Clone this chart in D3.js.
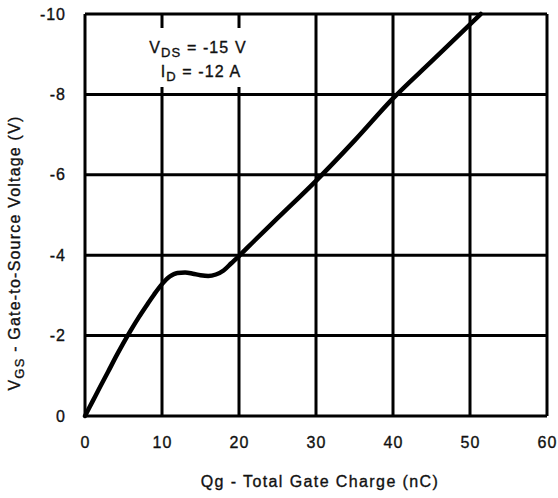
<!DOCTYPE html>
<html>
<head>
<meta charset="utf-8">
<script src="https://cdn.jsdelivr.net/npm/d3@7"></script>
<style>
  body { margin: 0; background: #fff; }
  svg text { font-family: "Liberation Sans", Arial, sans-serif; fill: #111; stroke: #111; stroke-width: 0.35px; }
</style>
</head>
<body>
<div id="chart"></div>
<script>
// gate charge curve
var qg = [0, 1, 2, 3, 4, 5, 6, 7, 8, 9, 10, 11, 12, 13, 14, 15, 16, 17, 18, 19, 20, 22, 25, 30, 35, 40, 45, 50, 51.4];
var vgs = [0, -0.37, -0.74, -1.1, -1.47, -1.82, -2.15, -2.46, -2.75, -3.03, -3.28, -3.47, -3.56, -3.57, -3.54,
           -3.5, -3.48, -3.52, -3.62, -3.8, -3.98, -4.36, -4.92, -5.85, -6.85, -7.9, -8.82, -9.74, -10];
var xTicks = [0, 10, 20, 30, 40, 50, 60];
var yTicks = [0, -2, -4, -6, -8, -10];

var svgWidth = 558;
var svgHeight = 498;
var margin = { top: 14, right: 11, bottom: 82, left: 85 };
var chart_width = svgWidth - margin.left - margin.right;
var chart_height = svgHeight - margin.top - margin.bottom;

var svg = d3.select("#chart")
    .append("svg")
    .attr("width", svgWidth)
    .attr("height", svgHeight);

var chartGroup = svg.append("g")
    .attr("transform", `translate(${margin.left}, ${margin.top})`);

var xScale = d3.scaleLinear().domain([0, 60]).range([0, chart_width]);
var yScale = d3.scaleLinear().domain([0, -10]).range([chart_height, 0]);

// grid lines
chartGroup.append("g")
    .selectAll("line")
    .data(xTicks)
    .enter()
    .append("line")
    .attr("x1", d => xScale(d))
    .attr("x2", d => xScale(d))
    .attr("y1", 0)
    .attr("y2", chart_height)
    .attr("stroke", "#000")
    .attr("stroke-width", 3);

chartGroup.append("g")
    .selectAll("line")
    .data(yTicks)
    .enter()
    .append("line")
    .attr("x1", 0)
    .attr("x2", chart_width)
    .attr("y1", d => yScale(d))
    .attr("y2", d => yScale(d))
    .attr("stroke", "#000")
    .attr("stroke-width", 3);

// white box behind the annotation
chartGroup.append("rect")
    .attr("x", 55)
    .attr("y", 14)
    .attr("width", 115)
    .attr("height", 59)
    .attr("fill", "#fff");

var ann = chartGroup.append("g").attr("text-anchor", "middle").attr("font-size", 16).attr("letter-spacing", 1.1);
var t1 = ann.append("text").attr("x", 113).attr("y", 39);
t1.append("tspan").text("V");
t1.append("tspan").attr("font-size", 13).attr("dy", 4).text("DS");
t1.append("tspan").attr("dy", -4).text(" = -15 V");
var t2 = ann.append("text").attr("x", 116).attr("y", 63);
t2.append("tspan").text("I");
t2.append("tspan").attr("font-size", 13).attr("dy", 4).text("D");
t2.append("tspan").attr("dy", -4).text(" = -12 A");

// curve
var line = d3.line()
    .x((d, i) => xScale(qg[i]))
    .y(d => yScale(d))
    .curve(d3.curveMonotoneX);

chartGroup.append("path")
    .datum(vgs)
    .attr("d", line)
    .attr("fill", "none")
    .attr("stroke", "#000")
    .attr("stroke-width", 4.5)
    .attr("stroke-linecap", "round");

// axes (labels only, the grid does the lines)
var bottomAxis = d3.axisBottom(xScale).tickValues(xTicks).tickSize(0).tickPadding(21).tickFormat(d => d);
var leftAxis = d3.axisLeft(yScale).tickValues(yTicks).tickSize(0).tickPadding(19).tickFormat(d => d);

chartGroup.append("g")
    .attr("transform", `translate(0, ${chart_height})`)
    .call(bottomAxis)
    .call(g => g.select(".domain").remove())
    .selectAll("text")
    .attr("font-size", 16)
    .attr("letter-spacing", 1)
    .attr("font-family", "Liberation Sans, Arial, sans-serif")
    .attr("fill", "#111");

chartGroup.append("g")
    .call(leftAxis)
    .call(g => g.select(".domain").remove())
    .selectAll("text")
    .attr("font-size", 16)
    .attr("letter-spacing", 1)
    .attr("font-family", "Liberation Sans, Arial, sans-serif")
    .attr("fill", "#111");

// axis titles
svg.append("text")
    .attr("x", 320)
    .attr("y", 487)
    .attr("text-anchor", "middle")
    .attr("font-size", 16)
    .attr("letter-spacing", 1.4)
    .text("Qg - Total Gate Charge (nC)");

var yt = svg.append("text")
    .attr("transform", "translate(20, 253) rotate(-90)")
    .attr("text-anchor", "middle")
    .attr("font-size", 16)
    .attr("letter-spacing", 1.2);
yt.append("tspan").text("V");
yt.append("tspan").attr("font-size", 13).attr("dy", 4).text("GS");
yt.append("tspan").attr("dy", -4).text(" - Gate-to-Source Voltage (V)");
</script>
</body>
</html>
